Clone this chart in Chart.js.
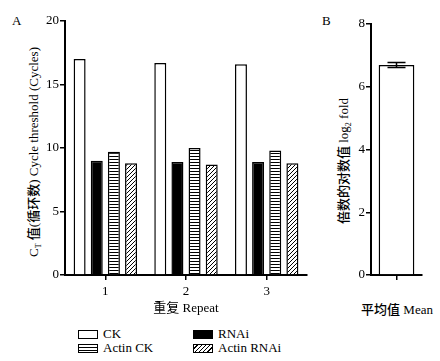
<!DOCTYPE html>
<html>
<head>
<meta charset="utf-8">
<script src="https://cdn.jsdelivr.net/npm/chart.js@4"></script>
<style>
body{margin:0;background:#fff;width:440px;height:361px;position:relative;overflow:hidden;font-family:"Liberation Serif","Noto Sans CJK SC",serif;color:#000}
.box{position:absolute}
.panel{position:absolute;font-size:13px}
.ytitle{position:absolute;white-space:nowrap;font-size:13px;transform:translate(-50%,-50%) rotate(-90deg)}
.xtitle{position:absolute;white-space:nowrap;font-size:13px;transform:translate(-50%,-50%)}
.ytitle sub{font-size:8px}
.cn{font-weight:500}
.leg{position:absolute;font-size:13px;display:flex;align-items:center;height:14px}
.sw{width:18px;height:7px;border:1px solid #000;margin-right:5px}
</style>
</head>
<body>
<div class="panel" style="left:12px;top:13px">A</div>
<div class="panel" style="left:322px;top:13px">B</div>
<div class="ytitle" style="left:33px;top:152px">C<sub>T</sub> <span class="cn">值(循环数)</span> Cycle threshold (Cycles)</div>
<div class="ytitle" style="left:343px;top:161px"><span class="cn">倍数的对数值</span> log<sub>2</sub> fold</div>
<div class="xtitle" style="left:397px;top:308px"><span class="cn">平均值</span> Mean</div>
<div class="box" style="left:0;top:0;width:320px;height:320px"><canvas id="chartA"></canvas></div>
<div class="box" style="left:330px;top:0;width:110px;height:320px"><canvas id="chartB"></canvas></div>
<div id="legend"></div>
<script>
const repeats = ['1', '2', '3'];
const ckValues = [17.0, 16.7, 16.6];
const rnaiValues = [9.0, 8.9, 8.9];
const actinCkValues = [9.7, 10.0, 9.8];
const actinRnaiValues = [8.8, 8.7, 8.8];

const meanLabels = [''];
const meanValues = [6.69];
const meanErrors = [0.08];

// hatch fills
function stripes() {
  const c = document.createElement('canvas');
  c.width = 4; c.height = 3;
  const g = c.getContext('2d');
  g.fillStyle = '#fff'; g.fillRect(0, 0, 4, 3);
  g.fillStyle = '#000'; g.fillRect(0, 0, 4, 1);
  return g.createPattern(c, 'repeat');
}
function diagonal() {
  const c = document.createElement('canvas');
  c.width = 4; c.height = 4;
  const g = c.getContext('2d');
  g.fillStyle = '#fff'; g.fillRect(0, 0, 4, 4);
  g.strokeStyle = '#000'; g.lineWidth = 1;
  g.beginPath();
  g.moveTo(0, 4); g.lineTo(4, 0);
  g.moveTo(-1, 1); g.lineTo(1, -1);
  g.moveTo(3, 5); g.lineTo(5, 3);
  g.stroke();
  return g.createPattern(c, 'repeat');
}

const font = {family: '"Liberation Serif", "Noto Sans CJK SC", serif', size: 13};
Chart.defaults.color = '#000';
Chart.defaults.font = font;

function bar(label, data, fill) {
  return {label, data, backgroundColor: fill, borderColor: '#000', borderWidth: 1.5,
    barPercentage: 0.7, categoryPercentage: 0.85};
}

const gridOpts = {drawOnChartArea: false, drawTicks: true, tickLength: 5, color: '#000', lineWidth: 1.5, offset: false};

new Chart(document.getElementById('chartA'), {
  type: 'bar',
  data: {
    labels: repeats,
    datasets: [
      bar('CK', ckValues, '#fff'),
      bar('RNAi', rnaiValues, '#000'),
      bar('Actin CK', actinCkValues, stripes()),
      bar('Actin RNAi', actinRnaiValues, diagonal())
    ]
  },
  options: {
    maintainAspectRatio: false,
    animation: false,
    layout: {padding: {top: 21, right: 13, left: 0, bottom: 0}},
    plugins: {legend: false, tooltip: {enabled: false}},
    scales: {
      x: {
        grid: gridOpts,
        border: {display: true, color: '#000', width: 2},
        ticks: {padding: 4},
        title: {display: true, text: '重复 Repeat', padding: {top: 2}},
        afterFit: (s) => { s.height = 45; }
      },
      y: {
        min: 0, max: 20,
        ticks: {stepSize: 5, padding: 1},
        grid: gridOpts,
        border: {display: true, color: '#000', width: 2},
        afterFit: (s) => { s.width = 65; }
      }
    }
  }
});

const errorBars = {
  id: 'errorBars',
  afterDatasetsDraw(chart) {
    const {ctx, scales: {y}} = chart;
    const meta = chart.getDatasetMeta(0);
    ctx.save();
    ctx.strokeStyle = '#000';
    ctx.lineWidth = 1.5;
    meta.data.forEach((b, i) => {
      const top = y.getPixelForValue(meanValues[i] + meanErrors[i]);
      const bot = y.getPixelForValue(meanValues[i] - meanErrors[i]);
      ctx.beginPath();
      ctx.moveTo(b.x, top); ctx.lineTo(b.x, bot);
      ctx.moveTo(b.x - 9, top); ctx.lineTo(b.x + 9, top);
      ctx.moveTo(b.x - 9, bot); ctx.lineTo(b.x + 9, bot);
      ctx.stroke();
    });
    ctx.restore();
  }
};

new Chart(document.getElementById('chartB'), {
  type: 'bar',
  data: {
    labels: meanLabels,
    datasets: [{data: meanValues, backgroundColor: '#fff', borderColor: '#000', borderWidth: 1.5,
      barPercentage: 0.7, categoryPercentage: 1}]
  },
  options: {
    maintainAspectRatio: false,
    animation: false,
    layout: {padding: {top: 24, right: 18, left: 0, bottom: 0}},
    plugins: {legend: false, tooltip: {enabled: false}},
    scales: {
      x: {
        grid: gridOpts,
        border: {display: true, color: '#000', width: 2},
        ticks: {padding: 4},
        afterFit: (s) => { s.height = 45; }
      },
      y: {
        min: 0, max: 8,
        ticks: {stepSize: 2, padding: 1},
        grid: gridOpts,
        border: {display: true, color: '#000', width: 2},
        afterFit: (s) => { s.width = 41; }
      }
    }
  },
  plugins: [errorBars]
});

// legend
const legendItems = [
  ['CK', 'background:#fff', 78, 327],
  ['RNAi', 'background:#000', 193, 327],
  ['Actin CK', 'background:repeating-linear-gradient(180deg,#fff 0 2px,#000 2px 3px)', 78, 341],
  ['Actin RNAi', 'background:repeating-linear-gradient(135deg,#fff 0 2px,#000 2px 3px)', 193, 341]
];
const legendEl = document.getElementById('legend');
legendItems.forEach(([txt, bg, x, y]) => {
  const d = document.createElement('div');
  d.className = 'leg';
  d.style.left = x + 'px';
  d.style.top = y + 'px';
  d.innerHTML = '<span class="sw" style="' + bg + '"></span>' + txt;
  legendEl.appendChild(d);
});
</script>
</body>
</html>
